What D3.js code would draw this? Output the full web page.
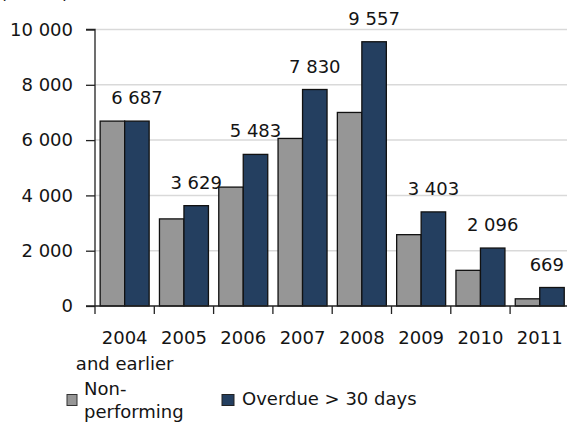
<!DOCTYPE html>
<html>
<head>
<meta charset="utf-8">
<script src="https://cdn.jsdelivr.net/npm/d3@7"></script>
<style>
  html, body { margin: 0; padding: 0; background: #fff; }
  svg { display: block; }
  text { font-family: "DejaVu Sans", Verdana, sans-serif; fill: #141414; }
</style>
</head>
<body>
<script>
const categories = ["2004", "2005", "2006", "2007", "2008", "2009", "2010", "2011"];
const categorySubLabels = ["and earlier", "", "", "", "", "", "", ""];
const nonPerforming = [6687, 3150, 4300, 6060, 7000, 2580, 1290, 260];
const overdue30 = [6687, 3629, 5483, 7830, 9557, 3403, 2096, 669];
const overdueLabels = ["6 687", "3 629", "5 483", "7 830", "9 557", "3 403", "2 096", "669"];
const yTicks = [0, 2000, 4000, 6000, 8000, 10000];
const seriesNames = ["Non-\nperforming", "Overdue > 30 days"];
const unitLabel = "(MNOK)";

const W = 567, H = 425;
const fs = 18;
const svg = d3.select("body").append("svg").attr("width", W).attr("height", H);

const x0 = 95, x1 = 569.4;
const y = d3.scaleLinear().domain([0, 10000]).range([306, 29.5]);
const x = d3.scaleBand().domain(categories).range([x0, x1]).paddingInner(0.174).paddingOuter(0.087);
const xs = d3.scaleBand().domain(["np", "od"]).range([0, x.bandwidth()]);
const step = x.step();

// unit label (mostly cut off at top)
svg.append("text").attr("x", 0).attr("y", -1).attr("font-size", fs).text(unitLabel);

// gridlines
svg.append("g").selectAll("line").data(yTicks.filter(d => d > 0)).join("line")
  .attr("x1", x0).attr("x2", W).attr("y1", d => y(d)).attr("y2", d => y(d))
  .attr("stroke", "#d9d9d9").attr("stroke-width", 1.5);

// bars
const g = svg.append("g");
g.selectAll("rect.np").data(categories).join("rect").attr("class", "np")
  .attr("x", c => x(c) + xs("np")).attr("width", xs.bandwidth())
  .attr("y", (c, i) => y(nonPerforming[i])).attr("height", (c, i) => y(0) - y(nonPerforming[i]))
  .attr("fill", "#969696").attr("stroke", "#111").attr("stroke-width", 1.3);
g.selectAll("rect.od").data(categories).join("rect").attr("class", "od")
  .attr("x", c => x(c) + xs("od")).attr("width", xs.bandwidth())
  .attr("y", (c, i) => y(overdue30[i])).attr("height", (c, i) => y(0) - y(overdue30[i]))
  .attr("fill", "#243f60").attr("stroke", "#111").attr("stroke-width", 1.3);

// value labels
g.selectAll("text.val").data(categories).join("text").attr("class", "val")
  .attr("font-size", fs).attr("text-anchor", "middle")
  .attr("y", (c, i) => y(overdue30[i]) - 17)
  .text((c, i) => overdueLabels[i])
  .attr("x", function (c) {
    const cx = x(c) + xs("od") + xs.bandwidth() / 2;
    const w = this.getComputedTextLength();
    return Math.min(cx, 564 - w / 2);
  });

// y axis
const ya = svg.append("g").attr("transform", `translate(${x0},0)`)
  .call(d3.axisLeft(y).tickValues(yTicks).tickSize(9).tickPadding(13)
    .tickFormat(d => d3.format(",")(d).replace(/,/g, " ")));
ya.select(".domain").attr("stroke", "#222").attr("stroke-width", 1.3).attr("d", `M-9,${y(10000)}H0V${y(0)}`);
ya.selectAll(".tick line").attr("stroke", "#222").attr("stroke-width", 1.3);
ya.selectAll(".tick text").attr("font-size", fs).attr("font-family", "DejaVu Sans").attr("fill", "#141414");

// x axis
const xa = svg.append("g");
xa.append("line").attr("x1", x0 - 9).attr("x2", W).attr("y1", y(0)).attr("y2", y(0))
  .attr("stroke", "#222").attr("stroke-width", 1.3);
xa.selectAll("line.tk").data(d3.range(categories.length + 1)).join("line").attr("class", "tk")
  .attr("x1", i => x0 + i * step).attr("x2", i => x0 + i * step)
  .attr("y1", y(0)).attr("y2", y(0) + 8).attr("stroke", "#222").attr("stroke-width", 1.3);
xa.selectAll("text.cat").data(categories).join("text").attr("class", "cat")
  .attr("font-size", fs).attr("text-anchor", "middle")
  .attr("x", c => x(c) + x.bandwidth() / 2).attr("y", 344).text(c => c);
xa.selectAll("text.sub").data(categories).join("text").attr("class", "sub")
  .attr("font-size", fs).attr("text-anchor", "middle")
  .attr("x", c => x(c) + x.bandwidth() / 2).attr("y", 370).text((c, i) => categorySubLabels[i]);

// legend
const lg = svg.append("g");
lg.append("rect").attr("x", 67).attr("y", 394.5).attr("width", 10).attr("height", 11)
  .attr("fill", "#969696").attr("stroke", "#333").attr("stroke-width", 1);
const t1 = lg.append("text").attr("font-size", fs).attr("x", 84).attr("y", 395);
seriesNames[0].split("\n").forEach((s, i) => {
  t1.append("tspan").attr("x", 84).attr("y", 395 + i * 23).text(s);
});
lg.append("rect").attr("x", 222).attr("y", 394.5).attr("width", 12).attr("height", 11)
  .attr("fill", "#243f60").attr("stroke", "#222").attr("stroke-width", 1);
lg.append("text").attr("font-size", fs).attr("x", 242).attr("y", 404.5).text(seriesNames[1]);
</script>
</body>
</html>
